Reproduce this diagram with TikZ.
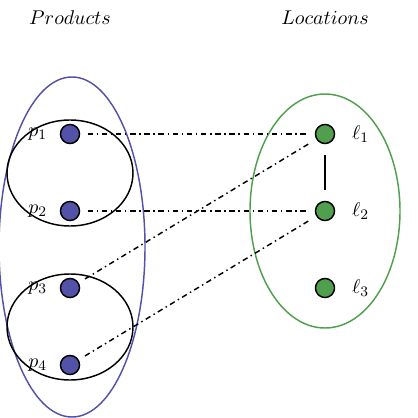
\documentclass[tikz,border=0pt]{standalone}
\usepackage{amsmath,amssymb}
\usepackage{xcolor}
\usetikzlibrary{positioning}
\definecolor{prod}{HTML}{5252A8}
\definecolor{loc}{HTML}{4F9F4F}

\begin{document}
\begin{tikzpicture}[
  x=0.55pt,y=-0.55pt,
  every node/.style={font=\fontsize{11}{13}\selectfont},
  vert/.style={circle,draw=black,thick,minimum size=10.5pt,inner sep=0pt},
  pvert/.style={vert,fill=prod},
  lvert/.style={vert,fill=loc},
  link/.style={thick,dash dot,shorten <=4pt,shorten >=4pt},
  group/.style={thick}
]
\useasboundingbox (0,0) rectangle (418,418);

\node (ptitle) at (70,18) {$Products$};
\node (ltitle) at (325,18) {$Locations$};

\node[pvert] (p1) at (70,134) {};
\node[pvert] (p2) at (70,211) {};
\node[pvert] (p3) at (70,288) {};
\node[pvert] (p4) at (70,365) {};
\node[lvert] (l1) at (325,134) {};
\node[lvert] (l2) at (325,211) {};
\node[lvert] (l3) at (325,288) {};

\node[left=1.2mm of p1] (p1lab) {$p_1$};
\node[left=1.2mm of p2] (p2lab) {$p_2$};
\node[left=1.2mm of p3] (p3lab) {$p_3$};
\node[left=1.2mm of p4] (p4lab) {$p_4$};
\node[right=2mm of l1] (l1lab) {$\ell_1$};
\node[right=2mm of l2] (l2lab) {$\ell_2$};
\node[right=2mm of l3] (l3lab) {$\ell_3$};

% groups
\draw[prod,thick] (72,247) ellipse (73 and 170);
\draw[group] (70,173) ellipse (63 and 53);
\draw[group] (70,327) ellipse (63 and 53);
\draw[loc,thick] (325,211) ellipse (75 and 117);

% links
\draw[link] (p1) -- (l1);
\draw[link] (p2) -- (l2);
\draw[link] (p3) -- (l1);
\draw[link] (p4) -- (l2);
\draw[thick,shorten <=6pt,shorten >=6pt] (l1) -- (l2);
\end{tikzpicture}
\end{document}
